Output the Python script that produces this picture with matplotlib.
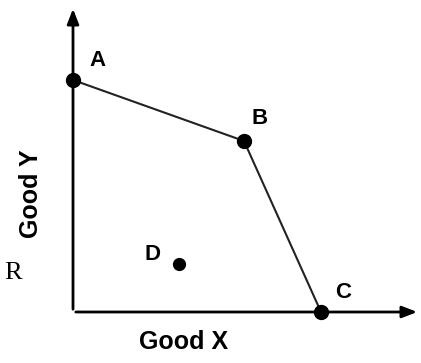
import matplotlib
matplotlib.use("Agg")
import matplotlib.pyplot as plt

# frontier points (units from origin)
ppf_labels = ["A", "B", "C"]
ppf_x = [0, 171, 248]
ppf_y = [232, 171, 0]
d_x = [106]
d_y = [48]

fig = plt.figure(figsize=(4.21, 3.63), dpi=100)
ax = fig.add_axes([0, 0, 1, 1])
ax.set_xlim(-73, 348)
ax.set_ylim(-51, 312)
ax.axis("off")

# axes with arrows
ax.annotate("", xy=(347, 0), xytext=(0, 0),
            arrowprops=dict(arrowstyle="-|>,head_length=0.9,head_width=0.35", lw=2, color="black"))
ax.annotate("", xy=(0, 306), xytext=(0, 0),
            arrowprops=dict(arrowstyle="-|>,head_length=0.9,head_width=0.35", lw=2, color="black"))

ax.plot(ppf_x, ppf_y, color="#222222", lw=1.5, zorder=3)
ax.plot(ppf_x, ppf_y, "o", color="black", ms=10, zorder=4)
ax.plot(d_x, d_y, "o", color="black", ms=8.5, zorder=4)

font = dict(family="Liberation Sans", weight="bold", fontsize=16)
offsets = [(25, 20), (16, 23), (22, 20)]
for lab, x, y, (dx, dy) in zip(ppf_labels, ppf_x, ppf_y, offsets):
    ax.text(x + dx, y + dy, lab, ha="center", va="center", **font)
ax.text(d_x[0] - 26, d_y[0] + 10, "D", ha="center", va="center", **font)

axfont = dict(family="Liberation Sans", weight="bold", fontsize=18)
ax.text(111, -30, "Good X", ha="center", va="center", **axfont)
ax.text(-42, 118, "Good Y", ha="center", va="center", rotation=90, **axfont)
ax.text(-60, 39, "R", ha="center", va="center", family="Liberation Serif", fontsize=19)

fig.savefig("out.png", dpi=100)
